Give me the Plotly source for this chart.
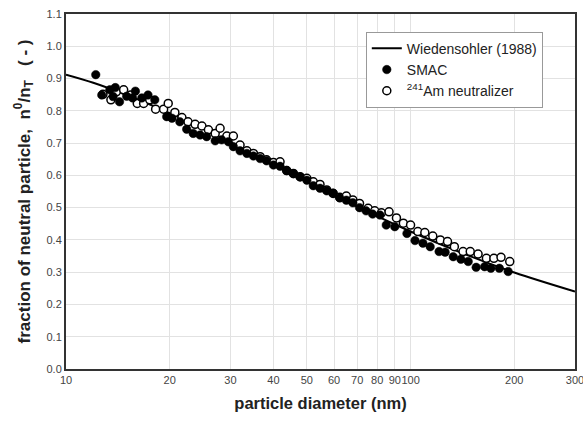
import math
import plotly.graph_objects as go

# Wiedensohler (1988) curve
curve_d = [10, 12, 15, 20, 25, 30, 40, 50, 60, 70, 100, 150, 200, 300]
curve_f = [0.912, 0.887, 0.849, 0.793, 0.744, 0.703, 0.635, 0.582, 0.539, 0.503, 0.426, 0.348, 0.299, 0.240]

# SMAC (filled)
smac_d = [12.2, 12.7, 13.4, 13.7, 13.9, 14.3, 15.0, 15.6, 15.9, 16.6, 17.3, 18.1, 19.6, 20.3, 21.4,
          22.4, 23.4, 24.5, 25.6, 27.1, 28.3, 29.6, 30.6, 32.0, 33.5, 35.0, 36.6, 38.2, 40.0, 41.8,
          43.7, 45.7, 47.8, 50.0, 52.2, 54.6, 57.1, 59.6, 62.3, 65.1, 68.0, 71.1, 74.3, 77.6, 81.5,
          85.0, 90.0, 97.6, 103, 108.6, 114, 121, 126, 133, 140, 147, 155, 164, 171, 181, 192]
smac_f = [0.912, 0.849, 0.865, 0.844, 0.872, 0.828, 0.845, 0.840, 0.861, 0.840, 0.849, 0.834, 0.782, 0.777, 0.766,
          0.743, 0.730, 0.725, 0.720, 0.707, 0.710, 0.704, 0.689, 0.676, 0.668, 0.660, 0.652, 0.645, 0.632, 0.628,
          0.615, 0.605, 0.595, 0.585, 0.568, 0.560, 0.552, 0.545, 0.530, 0.523, 0.515, 0.500, 0.490, 0.480, 0.477,
          0.446, 0.441, 0.420, 0.398, 0.390, 0.379, 0.364, 0.362, 0.348, 0.340, 0.333, 0.315, 0.317, 0.312, 0.312, 0.302]

# 241Am neutralizer (open)
am_d = [12.8, 13.5, 14.0, 14.7, 15.4, 16.1, 16.8, 17.5, 18.2, 19.2, 19.8, 20.7, 21.7, 22.6, 23.7,
        24.8, 25.9, 27.1, 28.0, 29.3, 30.6, 32.0, 33.5, 35.0, 36.6, 38.2, 40.0, 41.8, 43.7, 45.7,
        47.8, 50.0, 52.2, 54.6, 57.1, 59.6, 62.3, 65.1, 68.0, 71.1, 75.3, 78.7, 82.3, 86.6, 91.0,
        95.3, 100, 105, 110, 116, 122, 128, 134, 142, 149, 157, 166, 174.5, 183, 194]
am_f = [0.851, 0.834, 0.859, 0.865, 0.849, 0.823, 0.823, 0.834, 0.805, 0.805, 0.823, 0.795, 0.779, 0.766, 0.758,
        0.753, 0.741, 0.730, 0.746, 0.722, 0.722, 0.694, 0.676, 0.668, 0.658, 0.648, 0.640, 0.642, 0.615, 0.606,
        0.596, 0.591, 0.580, 0.572, 0.555, 0.544, 0.532, 0.536, 0.524, 0.513, 0.498, 0.490, 0.484, 0.487, 0.468,
        0.452, 0.446, 0.426, 0.423, 0.412, 0.400, 0.395, 0.379, 0.364, 0.364, 0.356, 0.343, 0.343, 0.346, 0.333]

x_ticks = [10, 20, 30, 40, 50, 60, 70, 80, 90, 100, 200, 300]
y_ticks = [0.0, 0.1, 0.2, 0.3, 0.4, 0.5, 0.6, 0.7, 0.8, 0.9, 1.0, 1.1]

FONT = "Liberation Sans, Arial"

fig = go.Figure()
fig.add_trace(go.Scatter(x=curve_d, y=curve_f, mode="lines", name="Wiedensohler (1988)",
                         line=dict(color="black", width=2, shape="spline"), legendrank=1))
fig.add_trace(go.Scatter(x=am_d, y=am_f, mode="markers", name="<sup>241</sup>Am neutralizer",
                         marker=dict(symbol="circle", size=8, color="white",
                                     line=dict(color="black", width=1.5)), legendrank=3))
fig.add_trace(go.Scatter(x=smac_d, y=smac_f, mode="markers", name="SMAC",
                         marker=dict(symbol="circle", size=8.5, color="black",
                                     line=dict(color="black", width=0.5)), legendrank=2))

axis_common = dict(showline=True, linecolor="#333333", linewidth=2, mirror=True,
                   showgrid=True, gridcolor="#e2e2e2", gridwidth=1, zeroline=False,
                   ticks="", automargin=False, ticklabeloverflow="allow",
                   tickfont=dict(family=FONT, size=11, color="#444444"))

fig.update_layout(
    width=583, height=421,
    margin=dict(l=66, r=8, t=14, b=52),
    paper_bgcolor="white", plot_bgcolor="white",
    font=dict(family=FONT, color="#222222"),
    xaxis=dict(type="log", range=[1, math.log10(max(x_ticks)) + 1e-4], tickvals=x_ticks,
               ticktext=[str(v) for v in x_ticks], tickangle=0,
               title=dict(text="<b>particle diameter (nm)</b>", font=dict(size=16.5, color="#222222"), standoff=12),
               **axis_common),
    yaxis=dict(range=[0, 1.1], tickvals=y_ticks, ticktext=[f"{v:.1f}" for v in y_ticks],
               title=dict(text="<b>fraction of neutral particle,  n<sup>0</sup>/n<sub>T</sub>   ( - )</b>",
                          font=dict(size=17, color="#222222"), standoff=12),
               **axis_common),
    legend=dict(x=0.589, y=0.95, xanchor="left", yanchor="top", bgcolor="white",
                bordercolor="#999999", borderwidth=1, font=dict(size=14, color="#222222"),
                tracegroupgap=0, itemsizing="trace"),
    showlegend=True,
)

fig.write_html("out.html", config={"displayModeBar": False},
               post_script="document.body.style.margin='0px';document.body.style.overflow='hidden';")
